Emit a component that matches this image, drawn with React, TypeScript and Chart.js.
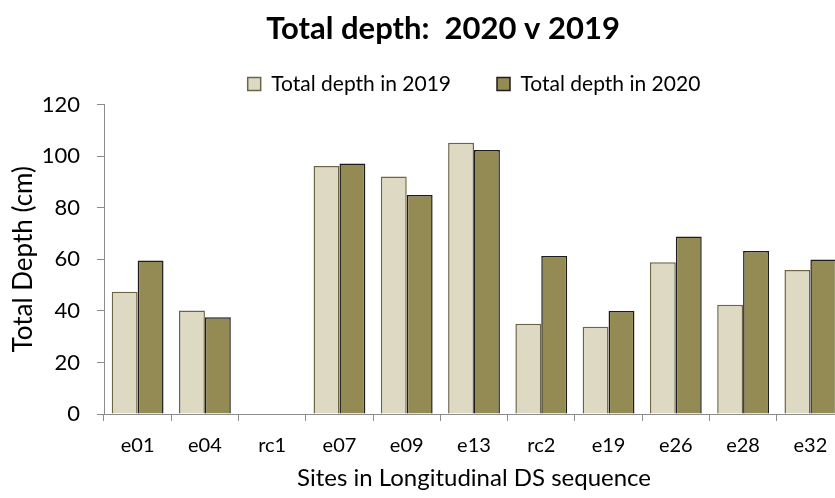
import React, { useEffect, useRef } from "react";
import { Chart, registerables } from "chart.js";

Chart.register(...registerables);

const sites = ["e01", "e04", "rc1", "e07", "e09", "e13", "rc2", "e19", "e26", "e28", "e32"];
const depth2019 = [47.4, 40.1, null, 96.2, 92.1, 105.2, 35.0, 33.8, 58.8, 42.4, 55.8];
const depth2020 = [59.5, 37.5, null, 97.1, 84.9, 102.4, 61.3, 39.9, 68.8, 63.2, 59.9];
const seriesLabels = ["Total depth in 2019", "Total depth in 2020"];
const yMin = 0;
const yMax = 120;
const yStep = 20;

const FONT = "Lato, Carlito, 'Noto Sans', sans-serif";
const AXIS = "#8c8c8c";

export default function App() {
  const ref = useRef<HTMLCanvasElement | null>(null);

  useEffect(() => {
    if (!ref.current) return;
    Chart.defaults.font.family = FONT;
    Chart.defaults.color = "#000";
    const chart = new Chart(ref.current, {
      type: "bar",
      data: {
        labels: sites,
        datasets: [
          {
            label: seriesLabels[0],
            data: depth2019,
            backgroundColor: "#DDD9C3",
            borderColor: "#6b6545",
            borderWidth: 1.5,
            categoryPercentage: 0.77,
            barPercentage: 1.0,
          },
          {
            label: seriesLabels[1],
            data: depth2020,
            backgroundColor: "#948A54",
            borderColor: "#1c1c1c",
            borderWidth: 1.5,
            categoryPercentage: 0.77,
            barPercentage: 1.0,
          },
        ],
      },
      options: {
        animation: false,
        responsive: false,
        devicePixelRatio: 1,
        layout: { padding: { left: 0, right: 120, top: 0, bottom: 0 } },
        plugins: {
          title: {
            display: true,
            text: "Total depth:  2020 v 2019",
            color: "#000",
            font: { size: 31, weight: "bold", family: FONT },
            padding: { top: 10.4, bottom: -20.1 },
          },
          legend: {
            display: true,
            position: "top",
            fullSize: false,
            maxHeight: 82.5,
            labels: {
              boxWidth: 13,
              boxHeight: 13,
              padding: 46,
              color: "#000",
              font: { size: 21, family: FONT },
            },
          },
          tooltip: { enabled: false },
        },
        scales: {
          x: {
            type: "category",
            offset: true,
            grid: {
              offset: true,
              drawOnChartArea: false,
              tickLength: 7,
              color: AXIS,
            },
            border: { display: true, color: AXIS, width: 1 },
            ticks: { color: "#000", font: { size: 20, family: FONT }, padding: 13, maxRotation: 0 },
            title: {
              display: true,
              text: "Sites in Longitudinal DS sequence",
              color: "#000",
              font: { size: 24, family: FONT },
              padding: { top: 0, bottom: 5.6 },
            },
            afterFit: (s: any) => {
              s.height = 84;
            },
          },
          y: {
            min: yMin,
            max: yMax,
            ticks: { stepSize: yStep, color: "#000", font: { size: 22, family: FONT }, padding: 17 },
            grid: { drawOnChartArea: false, tickLength: 7, color: AXIS },
            border: { display: true, color: AXIS, width: 1 },
            title: {
              display: true,
              text: "Total Depth (cm)",
              color: "#000",
              font: { size: 26, family: FONT },
              padding: { top: 8, bottom: 0 },
            },
            afterFit: (s: any) => {
              s.width = 104;
            },
          },
          yRight: {
            type: "linear",
            position: "right",
            display: true,
            grid: { display: false },
            border: { display: false },
            ticks: { display: false },
            afterFit: (s: any) => {
              s.width = 42;
            },
          },
        },
      },
    });
    return () => chart.destroy();
  }, []);

  return (
    <div
      style={{
        position: "fixed",
        left: 0,
        top: 0,
        width: 835,
        height: 498,
        overflow: "hidden",
        background: "#fff",
      }}
    >
      <canvas ref={ref} width={1006} height={498} style={{ display: "block", width: 1006, height: 498 }} />
    </div>
  );
}
